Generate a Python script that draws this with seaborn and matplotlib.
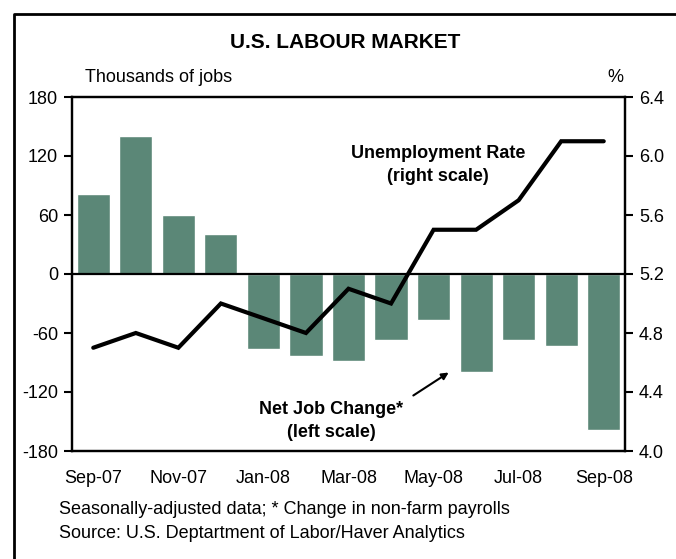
import numpy as np
import pandas as pd
import matplotlib.pyplot as plt
import matplotlib.lines as mlines
import seaborn as sns

# DATA
months = ["Sep-07", "Oct-07", "Nov-07", "Dec-07", "Jan-08", "Feb-08", "Mar-08",
          "Apr-08", "May-08", "Jun-08", "Jul-08", "Aug-08", "Sep-08"]
job_change = [81, 140, 60, 41, -76, -83, -88, -67, -47, -100, -67, -73, -159]
unemp_rate = [4.7, 4.8, 4.7, 5.0, 4.9, 4.8, 5.1, 5.0, 5.5, 5.5, 5.7, 6.1, 6.1]
left_ticks = [-180, -120, -60, 0, 60, 120, 180]
right_ticks = [4.0, 4.4, 4.8, 5.2, 5.6, 6.0, 6.4]
month_labels = months[::2]

df = pd.DataFrame({"month": months, "jobs": job_change, "rate": unemp_rate})

sns.set_style("white")
plt.rcParams["font.family"] = ["Liberation Sans", "DejaVu Sans"]
plt.rcParams["text.color"] = "black"
plt.rcParams["axes.unicode_minus"] = False

W, H = 676, 559
fig = plt.figure(figsize=(W / 100, H / 100), dpi=100)


def fx(x):
    return x / W


def fy(y):
    return 1 - y / H


ax = fig.add_axes([fx(72), fy(451), fx(625) - fx(72), fy(97) - fy(451)])

# BARS (left scale)
sns.barplot(data=df, x="month", y="jobs", color="#5B8777", saturation=1,
            width=0.78, ax=ax, zorder=2)
ax.axhline(0, color="black", lw=1.6, zorder=3)
ax.set_xlim(-0.5, len(months) - 0.5)
ax.set_ylim(-180, 180)
ax.set_yticks(left_ticks)
ax.set_xticks(range(0, len(months), 2))
ax.set_xticklabels(month_labels)
ax.set_xlabel("")
ax.set_ylabel("")
ax.tick_params(axis="y", direction="out", length=6, width=1.5, pad=4,
               labelsize=13, colors="black")
ax.tick_params(axis="x", length=0, pad=14, labelsize=13, colors="black")

# LINE (right scale)
ax2 = ax.twinx()
sns.lineplot(x=np.arange(len(months)), y=unemp_rate, color="black", lw=3,
             ax=ax2, solid_joinstyle="miter")
ax2.set_ylim(4.0, 6.4)
ax2.set_yticks(right_ticks)
ax2.set_yticklabels([f"{t:.1f}" for t in right_ticks])
ax2.tick_params(axis="y", direction="out", length=6, width=1.5, pad=4,
                labelsize=13, colors="black")
ax2.set_ylabel("")

for a in (ax, ax2):
    for s in a.spines.values():
        s.set_visible(True)
        s.set_color("black")
        s.set_linewidth(1.6)

# TEXTS
fig.text(fx(345), fy(43), "U.S. LABOUR MARKET", ha="center", va="center",
         fontsize=15, fontweight="bold")
fig.text(fx(85), fy(78), "Thousands of jobs", ha="left", va="center", fontsize=13)
fig.text(fx(615), fy(78), "%", ha="center", va="center", fontsize=13)
fig.text(fx(438), fy(165), "Unemployment Rate\n(right scale)", ha="center",
         va="center", fontsize=13, fontweight="bold", linespacing=1.5)
fig.text(fx(331), fy(421), "Net Job Change*\n(left scale)", ha="center",
         va="center", fontsize=13, fontweight="bold", linespacing=1.5)
ax.annotate("", xy=(fx(451), fy(371)), xycoords="figure fraction",
            xytext=(fx(411), fy(397)), textcoords="figure fraction",
            arrowprops=dict(arrowstyle="-|>", color="black", lw=1.5,
                            mutation_scale=10))
fig.text(fx(59), fy(509), "Seasonally-adjusted data; * Change in non-farm payrolls",
         ha="left", va="center", fontsize=13)
fig.text(fx(59), fy(534), "Source: U.S. Deptartment of Labor/Haver Analytics",
         ha="left", va="center", fontsize=13)

# FRAME
fig.add_artist(mlines.Line2D([fx(14), fx(14), 1.0], [0.0, fy(14), fy(14)],
                             color="black", lw=2))

fig.savefig("out.png", dpi=100)
